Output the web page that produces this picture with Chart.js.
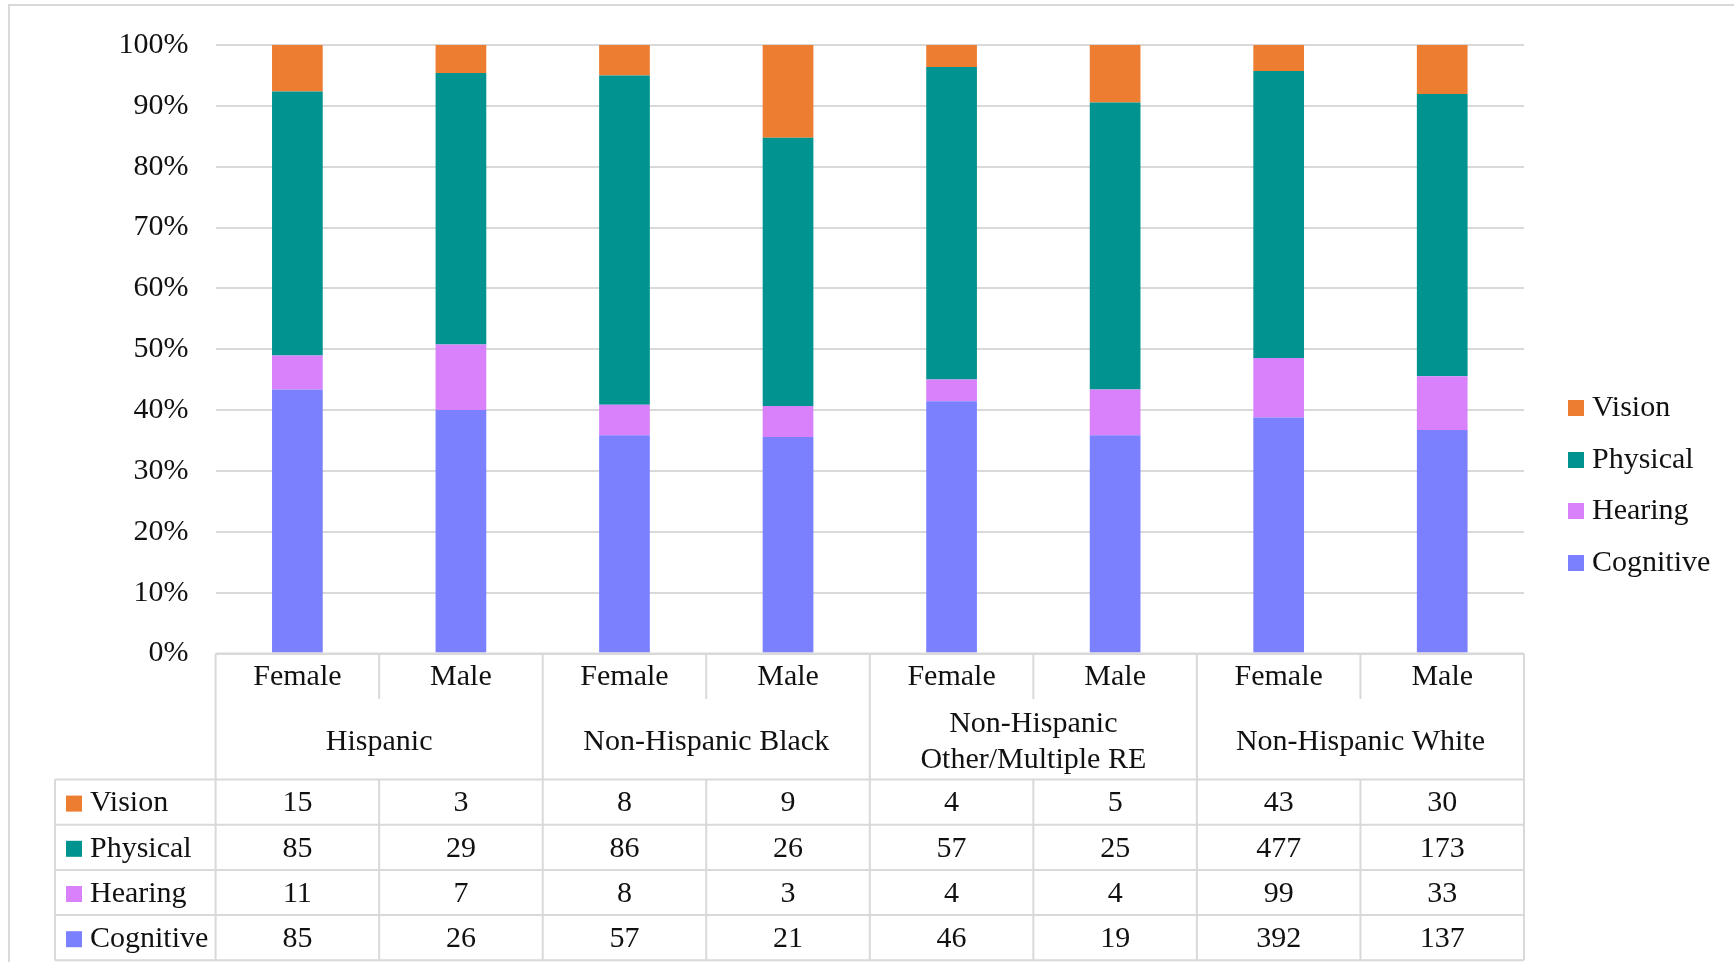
<!DOCTYPE html>
<html>
<head>
<meta charset="utf-8">
<script src="https://cdn.jsdelivr.net/npm/chart.js@4/dist/chart.umd.min.js"></script>
<style>
  html, body { margin: 0; padding: 0; background: #ffffff; }
  #wrap { width: 1734px; height: 962px; position: relative; }
</style>
</head>
<body>
<div id="wrap"><canvas id="chart" width="1734" height="962"></canvas></div>
<script>
// Groups (two-level category axis) and the sex split inside each group
const groups = [['Hispanic'], ['Non-Hispanic Black'], ['Non-Hispanic', 'Other/Multiple RE'], ['Non-Hispanic White']];
const sexes = ['Female', 'Male'];
const categories = ['Female', 'Male', 'Female', 'Male', 'Female', 'Male', 'Female', 'Male'];

// Counts per disability type, one value per category
const vision    = [15, 3, 8, 9, 4, 5, 43, 30];
const physical  = [85, 29, 86, 26, 57, 25, 477, 173];
const hearing   = [11, 7, 8, 3, 4, 4, 99, 33];
const cognitive = [85, 26, 57, 21, 46, 19, 392, 137];

const yTicks = [0, 10, 20, 30, 40, 50, 60, 70, 80, 90, 100];

const FONT = '"Liberation Serif", "DejaVu Serif", serif';
const FONT_SIZE = 30;
const GRID = '#d9d9d9';
const TEXT = '#111111';

const series = [
  { name: 'Cognitive', counts: cognitive, color: '#7b80ff' },
  { name: 'Hearing',   counts: hearing,   color: '#d881fb' },
  { name: 'Physical',  counts: physical,  color: '#00938f' },
  { name: 'Vision',    counts: vision,    color: '#ed7d31' }
];

// Column totals so each stack is shown as a share of 100%
const totals = categories.map((_, i) => series.reduce((s, d) => s + d.counts[i], 0));

const datasets = series.map(s => ({
  label: s.name,
  data: s.counts.map((v, i) => v / totals[i] * 100),
  backgroundColor: s.color,
  borderWidth: 0,
  categoryPercentage: 1.0,
  barPercentage: 0.31
}));

// Outer frame, right-hand legend and the data table under the plot
const decorations = {
  id: 'decorations',
  beforeDraw(chart) {
    const ctx = chart.ctx;
    ctx.save();
    ctx.fillStyle = '#ffffff';
    ctx.fillRect(0, 0, chart.width, chart.height);
    ctx.strokeStyle = GRID;
    ctx.lineWidth = 2;
    ctx.strokeRect(9, 5, chart.width + 20, chart.height + 20);
    ctx.restore();
  },
  afterDraw(chart) {
    const ctx = chart.ctx;
    const area = chart.chartArea;
    const x = chart.scales.x;
    const n = categories.length;
    const colW = (area.right - area.left) / n;
    const edge = i => area.left + i * colW;

    const top = area.bottom;
    const subEnd = top + 45.5;
    const headEnd = top + 126;
    const rowH = 45.2;
    const tableLeft = 55;
    const rowOrder = [3, 2, 1, 0]; // Vision, Physical, Hearing, Cognitive
    const tableEnd = headEnd + rowH * rowOrder.length;

    ctx.save();
    ctx.strokeStyle = GRID;
    ctx.lineWidth = 2;

    const hline = (x0, x1, y) => { ctx.beginPath(); ctx.moveTo(x0, y); ctx.lineTo(x1, y); ctx.stroke(); };
    const vline = (xx, y0, y1) => { ctx.beginPath(); ctx.moveTo(xx, y0); ctx.lineTo(xx, y1); ctx.stroke(); };

    // horizontal rules
    hline(area.left, area.right, top);
    for (let r = 0; r <= rowOrder.length; r++) hline(tableLeft, area.right, headEnd + r * rowH);

    // vertical rules
    for (let i = 0; i <= n; i++) {
      if (i % sexes.length === 0) vline(edge(i), top, tableEnd);
      else { vline(edge(i), top, subEnd); vline(edge(i), headEnd, tableEnd); }
    }
    vline(tableLeft, headEnd, tableEnd);

    ctx.fillStyle = TEXT;
    ctx.font = FONT_SIZE + 'px ' + FONT;
    ctx.textAlign = 'center';
    ctx.textBaseline = 'middle';

    // sex labels
    categories.forEach((c, i) => ctx.fillText(c, x.getPixelForValue(i), top + 24));

    // group labels
    groups.forEach((lines, g) => {
      const cx = (edge(g * 2) + edge(g * 2 + 2)) / 2;
      const cy = (subEnd + headEnd) / 2 + 3;
      const lh = 35.5;
      lines.forEach((t, k) => ctx.fillText(t, cx, cy + (k - (lines.length - 1) / 2) * lh));
    });

    // data rows with colour keys
    rowOrder.forEach((si, r) => {
      const s = series[si];
      const cy = headEnd + r * rowH + rowH / 2 + 1.5;
      ctx.fillStyle = s.color;
      ctx.fillRect(66, cy - 8, 16, 16);
      ctx.fillStyle = TEXT;
      ctx.textAlign = 'left';
      ctx.fillText(s.name, 90, cy);
      ctx.textAlign = 'center';
      s.counts.forEach((v, i) => ctx.fillText(String(v), x.getPixelForValue(i), cy));
    });

    // legend on the right
    const legendY = [408, 460, 511, 563];
    rowOrder.forEach((si, r) => {
      const s = series[si];
      ctx.fillStyle = s.color;
      ctx.fillRect(1568, legendY[r] - 8, 16, 16);
      ctx.fillStyle = TEXT;
      ctx.textAlign = 'left';
      ctx.fillText(s.name, 1592, legendY[r]);
    });
    ctx.restore();
  }
};

new Chart(document.getElementById('chart'), {
  type: 'bar',
  data: { labels: categories, datasets },
  options: {
    responsive: false,
    animation: false,
    devicePixelRatio: 1,
    layout: { padding: { left: 0, right: 210, top: 44.5, bottom: 308.5 } },
    plugins: { legend: { display: false }, tooltip: { enabled: false } },
    scales: {
      x: {
        stacked: true,
        display: false
      },
      y: {
        stacked: true,
        min: 0,
        max: 100,
        afterBuildTicks(scale) { scale.ticks = yTicks.map(v => ({ value: v })); },
        afterFit(scale) { scale.width = 215.6; },
        border: { display: false },
        grid: { color: GRID, lineWidth: 2, drawTicks: false },
        ticks: {
          padding: 27,
          color: TEXT,
          font: { family: FONT, size: FONT_SIZE },
          callback: v => v + '%'
        }
      }
    }
  },
  plugins: [decorations]
});
</script>
</body>
</html>
